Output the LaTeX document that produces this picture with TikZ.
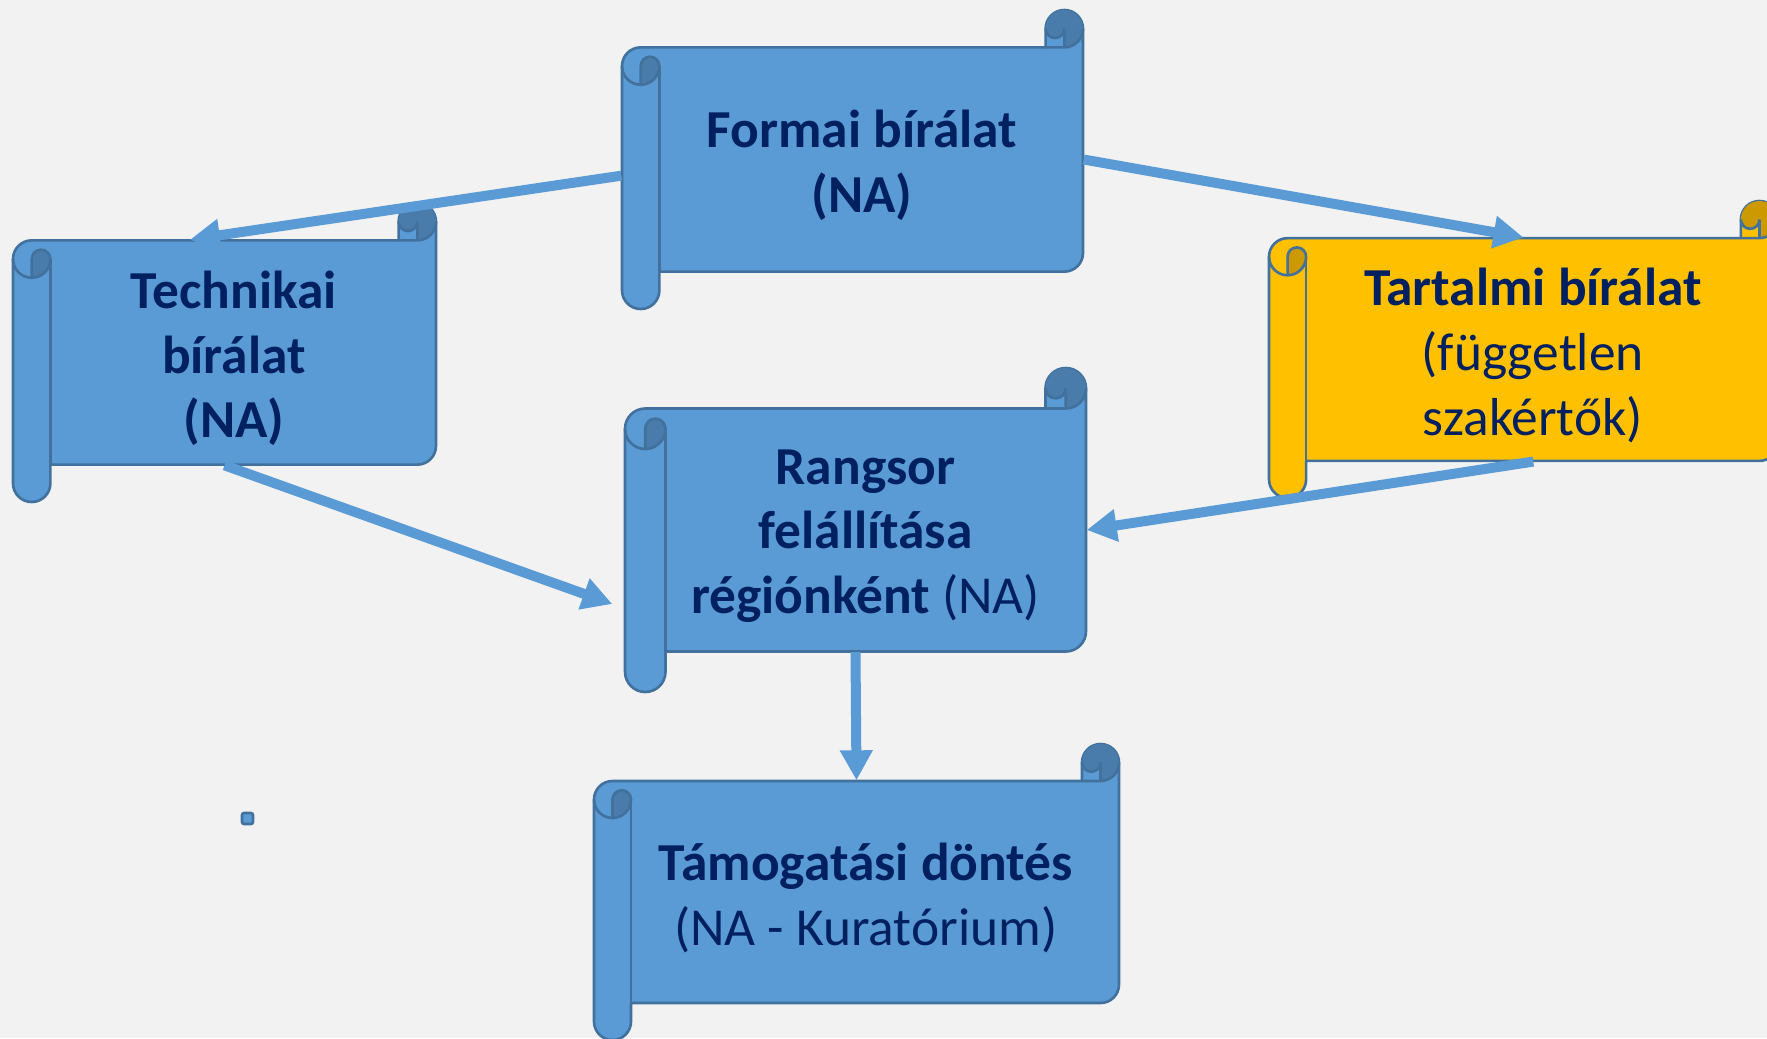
\documentclass[tikz,border=0pt]{standalone}
\usepackage{fontspec}
\setmainfont{Carlito}
\definecolor{scrollblue}{RGB}{91,155,213}
\definecolor{scrollgold}{RGB}{255,192,0}
\definecolor{scrollline}{RGB}{65,113,156}
\definecolor{navytext}{RGB}{0,32,96}
\definecolor{paper}{RGB}{242,242,242}
\usetikzlibrary{arrows.meta,calc}

% horizontal scroll: #1 name, #2 left, #3 bottom, #4 right, #5 top, #6 fill, #7 text
\newcommand{\scroll}[7]{%
  \pgfmathsetmacro{\rc}{min(#4-#2,#5-#3)/8}
  % sheet with the left roll
  \filldraw[fill=#6, draw=scrollline, line width=0.75pt, line join=round]
    (#2,{#5-1.5*\rc}) arc[start angle=180, end angle=90, radius={\rc/2}]
    -- ({#4-\rc},{#5-\rc}) -- ({#4-\rc},{#5-\rc/2})
    arc[start angle=180, end angle=0, radius={\rc/2}]
    -- (#4,{#3+1.5*\rc}) arc[start angle=0, end angle=-90, radius={\rc/2}]
    -- ({#2+\rc},{#3+\rc}) -- ({#2+\rc},{#3+\rc/2})
    arc[start angle=0, end angle=-180, radius={\rc/2}] -- cycle;
  % rolled ends
  \fill[#6!80!black] ({#2+\rc/2},{#5-2*\rc}) arc[start angle=-90, end angle=0, radius={\rc/2}]
    arc[start angle=0, end angle=180, radius={\rc/4}] -- cycle;
  \fill[#6!80!black] ({#4-\rc/2},{#5-\rc}) arc[start angle=-90, end angle=180, radius={\rc/2}]
    arc[start angle=180, end angle=360, radius={\rc/4}] -- cycle;
  \draw[scrollline, line width=0.75pt] ({#2+\rc},{#5-1.5*\rc}) -- ({#2+\rc},{#3+\rc});
  \draw[scrollline, line width=0.75pt] ({#2+\rc/2},{#5-2*\rc}) -- ({#2+\rc/2},{#5-1.5*\rc})
    arc[start angle=180, end angle=0, radius={\rc/4}]
    arc[start angle=0, end angle=-180, radius={\rc/2}];
  \draw[scrollline, line width=0.75pt] ({#4-\rc},{#5-\rc}) -- ({#4-\rc/2},{#5-\rc})
    arc[start angle=-90, end angle=0, radius={\rc/2}];
  \draw[scrollline, line width=0.75pt] ({#4-\rc/2},{#5-\rc}) -- ({#4-\rc/2},{#5-\rc/2})
    arc[start angle=0, end angle=-180, radius={\rc/4}];
  % sheet node with its text
  \node[inner sep=0pt, minimum width={(#4-#2)*1cm}, minimum height={(#5-#3-2*\rc)*1cm},
        label={[scrolltext, xshift={\rc*0.25cm}, yshift=-0.06cm]center:{#7}}]
        (#1) at ({(#2+#4)/2},{(#3+#5)/2}) {};
}

\begin{document}
\begin{tikzpicture}[
    scrolltext/.style={text=navytext, align=center, inner sep=0pt,
                       font=\fontsize{15.2}{18.4}\selectfont\bfseries},
    flow/.style={draw=scrollblue, line width=0.1cm,
                 -{Triangle[length=0.3cm, width=0.31cm]}}]

\useasboundingbox (0,0) rectangle (17.67,10.38);
\clip (0,0) rectangle (17.67,10.38);
\fill[paper] (0,0) rectangle (17.67,10.38);

% --- Scrolls ---
\scroll{formai}{6.22}{7.29}{10.83}{10.28}{scrollblue}{Formai bírálat\\(NA)}
\scroll{technikai}{0.13}{5.36}{4.36}{8.35}{scrollblue}{Technikai\\bírálat\\(NA)}
\scroll{tartalmi}{12.69}{5.40}{17.78}{8.37}{scrollgold}{Tartalmi bírálat\\{\mdseries (független}\\{\mdseries szakértők)}}
\scroll{rangsor}{6.25}{3.46}{10.86}{6.70}{scrollblue}{Rangsor\\felállítása\\régiónként {\mdseries (NA)}}
\scroll{tamogatasi}{5.94}{-0.02}{11.19}{2.94}{scrollblue}{Támogatási döntés\\{\mdseries (NA - Kuratórium)}}

% small marker
\filldraw[fill=scrollblue, draw=scrollline, line width=0.75pt, rounded corners=0.6pt]
  (2.42,2.14) rectangle (2.53,2.25);

% --- Arrows ---
\draw[flow] (formai.184) -- (technikai.107);
\draw[flow] (formai.east) -- (tartalmi.north);
\draw[flow] (technikai.south) -- ($(rangsor.west)+(-0.12,-0.74)$);
\draw[flow] (tartalmi.-85) -- (rangsor.east);
\draw[flow] (rangsor.south) -- (tamogatasi.north);

\end{tikzpicture}
\end{document}
